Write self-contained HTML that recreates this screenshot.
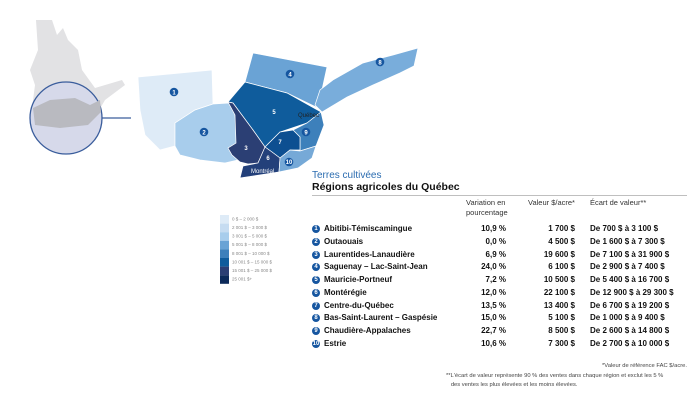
<!DOCTYPE html>
<html><head><meta charset="utf-8">
<style>
body{margin:0;width:700px;height:400px;background:#fff;overflow:hidden;font-family:"Liberation Sans",sans-serif;position:relative}
.t{position:absolute;white-space:nowrap}
.row{position:absolute;left:312px;font-size:8px;font-weight:bold;color:#111;height:12px;width:380px}
.row .n{position:absolute;left:0;top:1px;width:8px;height:8px;border-radius:50%;background:#1656a0;color:#fff;font-size:6px;text-align:center;line-height:8px}
.row .nm{position:absolute;left:12px}
.row .v{position:absolute;right:186px}
.row .p{position:absolute;right:117px}
.row .r{position:absolute;left:278px}
</style></head><body>
<svg width="700" height="400" style="position:absolute;left:0;top:0">
<polygon points="36,20 52,20 57,35 63,28 68,40 78,50 82,70 95,88 122,80 125,85 105,100 98,112 85,120 50,120 32,108 35,85 30,70 38,50" fill="#e2e2e4"/>
<circle cx="66" cy="118" r="36" fill="#d6d9ea" stroke="#3a5d9c" stroke-width="1.3"/>
<polygon points="33,108 50,100 75,98 90,105 100,100 101,112 88,125 60,128 35,125" fill="#b9bac0"/>
<line x1="102" y1="118" x2="131" y2="118" stroke="#3a5d9c" stroke-width="1.2"/>
<g stroke="#fff" stroke-width="0.7">
<polygon points="138,77 212,70 213,104 195,110 175,123 175,146 160,150 145,135 140,110" fill="#deebf7"/>
<polygon points="175,123 195,110 213,104 229,103 235,115 238,142 232,146 238,160 225,163 200,160 180,155 175,146" fill="#a8cdec"/>
<polygon points="253,53 327,67 318,108 287,93 245,82" fill="#6aa3d5"/>
<polygon points="315,105 320,90 333,80 363,63 393,55 418,48 414,66 400,73 373,85 347,97 322,112" fill="#79addb"/>
<polygon points="245,82 287,93 312,107 321,112 307,123 280,132 265,147 253,130 233,103 228,102" fill="#0f5c9c"/>
<polygon points="321,112 324,125 316,146 300,151 300,137 293,130 307,123" fill="#3d80bb"/>
<polygon points="228,102 233,103 253,130 265,147 258,163 248,164 240,162 232,155 228,148 236,143 235,115" fill="#2b3f74"/>
<polygon points="280,132 293,130 300,137 300,150 290,150 280,158 272,152 265,147" fill="#0d4f91"/>
<polygon points="265,147 272,152 280,158 279,172 240,178 243,166 258,163" fill="#23407a"/>
<polygon points="280,158 290,150 300,151 316,146 312,158 298,168 279,172" fill="#76a9d7"/>
</g>
<g font-size="6" font-weight="bold" fill="#fff" text-anchor="middle" font-family="Liberation Sans">
<circle cx="174" cy="92" r="4.3" fill="#1656a0"/><text x="174" y="94.3">1</text>
<circle cx="204" cy="132" r="4.3" fill="#1656a0"/><text x="204" y="134.3">2</text>
<text x="246" y="150">3</text>
<circle cx="290" cy="74" r="4.3" fill="#1656a0"/><text x="290" y="76.3">4</text>
<text x="274" y="114">5</text>
<text x="268" y="160">6</text>
<text x="280" y="144">7</text>
<circle cx="380" cy="62" r="4.3" fill="#1656a0"/><text x="380" y="64.3">8</text>
<circle cx="306" cy="132" r="4.3" fill="#1656a0"/><text x="306" y="134.3">9</text>
<circle cx="289" cy="162" r="4.3" fill="#1656a0"/><text x="289" y="164">10</text>
</g>
<text x="298" y="117" font-size="6" fill="#222" font-family="Liberation Sans">Québec</text>
<text x="251" y="173" font-size="6" fill="#fff" font-family="Liberation Sans">Montréal</text>
<g>
<rect x="220" y="215" width="9" height="8.6" fill="#deebf7"/>
<rect x="220" y="223.6" width="9" height="8.6" fill="#c6dcf1"/>
<rect x="220" y="232.2" width="9" height="8.6" fill="#a8cdec"/>
<rect x="220" y="240.8" width="9" height="8.6" fill="#6aa3d5"/>
<rect x="220" y="249.4" width="9" height="8.6" fill="#3d80bb"/>
<rect x="220" y="258" width="9" height="8.6" fill="#0f5c9c"/>
<rect x="220" y="266.6" width="9" height="8.6" fill="#2b3f74"/>
<rect x="220" y="275.2" width="9" height="8.6" fill="#0c2a5a"/>
<g font-size="4.5" fill="#888" font-family="Liberation Sans">
<text x="232" y="220.5">0 $ – 2 000 $</text><text x="232" y="229">2 001 $ – 3 000 $</text><text x="232" y="237.6">3 001 $ – 5 000 $</text><text x="232" y="246.2">5 001 $ – 8 000 $</text><text x="232" y="254.8">8 001 $ – 10 000 $</text><text x="232" y="263.4">10 001 $ – 15 000 $</text><text x="232" y="272">15 001 $ – 25 000 $</text><text x="232" y="280.6">25 001 $+</text>
</g></g>
<line x1="312" y1="195.5" x2="687" y2="195.5" stroke="#aaa" stroke-width="0.8"/>
</svg>
<div class="t" style="left:312px;top:170px;font-size:10px;color:#2b6cb0">Terres cultivées</div>
<div class="t" style="left:312px;top:181px;font-size:10.5px;font-weight:bold;color:#111">Régions agricoles du Québec</div>
<div class="t" style="left:466px;top:198px;font-size:7.5px;color:#333;line-height:10px">Variation en<br>pourcentage</div>
<div class="t" style="left:528px;top:198px;font-size:7.5px;color:#333">Valeur $/acre*</div>
<div class="t" style="left:590px;top:198px;font-size:7.5px;color:#333">Écart de valeur**</div>
<div id="rows"></div>
<div class="t" style="right:13px;top:363px;font-size:5.8px;color:#444">*Valeur de référence FAC $/acre.</div>
<div class="t" style="left:446px;top:372px;font-size:5.8px;color:#444;line-height:9px">**L'écart de valeur représente 90 % des ventes dans chaque région et exclut les 5 %<br>&nbsp;&nbsp;&nbsp;des ventes les plus élevées et les moins élevées.</div>
<script>
const regions=["Abitibi-Témiscamingue","Outaouais","Laurentides-Lanaudière","Saguenay – Lac-Saint-Jean","Mauricie-Portneuf","Montérégie","Centre-du-Québec","Bas-Saint-Laurent – Gaspésie","Chaudière-Appalaches","Estrie"];
const variation=["10,9 %","0,0 %","6,9 %","24,0 %","7,2 %","12,0 %","13,5 %","15,0 %","22,7 %","10,6 %"];
const values=["1 700 $","4 500 $","19 600 $","6 100 $","10 500 $","22 100 $","13 400 $","5 100 $","8 500 $","7 300 $"];
const ranges=["De 700 $ à 3 100 $","De 1 600 $ à 7 300 $","De 7 100 $ à 31 900 $","De 2 900 $ à 7 400 $","De 5 400 $ à 16 700 $","De 12 900 $ à 29 300 $","De 6 700 $ à 19 200 $","De 1 000 $ à 9 400 $","De 2 600 $ à 14 800 $","De 2 700 $ à 10 000 $"];
const host=document.getElementById('rows');
regions.forEach((r,i)=>{
 const d=document.createElement('div');
 d.className='row';
 d.style.top=(224+i*12.75)+'px';
 
 
 d.innerHTML='<span class="n">'+(i+1)+'</span><span class="nm">'+r+'</span><span class="v">'+variation[i]+'</span><span class="p">'+values[i]+'</span><span class="r">'+ranges[i]+'</span>';
 host.appendChild(d);
});
</script>
</body></html>
